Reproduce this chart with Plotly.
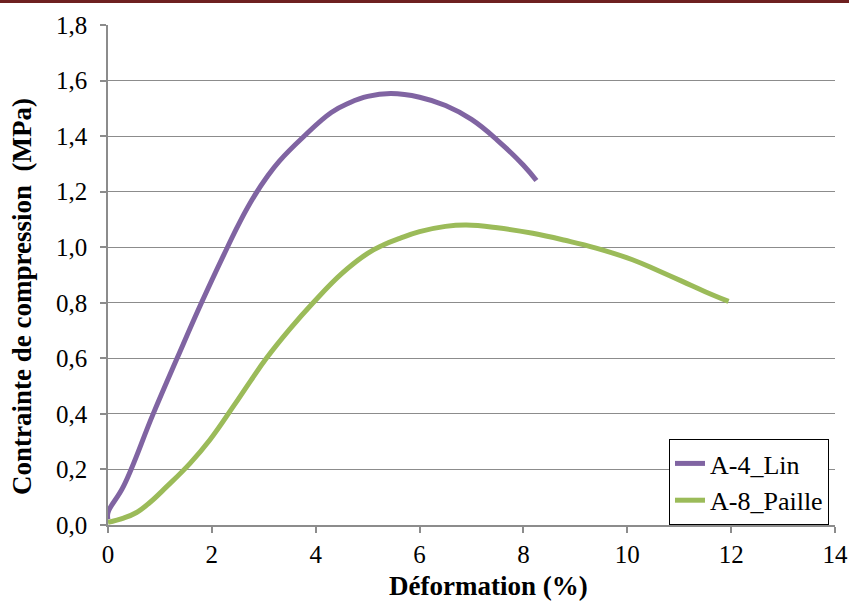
import plotly.graph_objects as go

# Data
lin_x = [0.0, 0.0, 0.3, 0.87, 1.33, 1.8, 2.3, 2.55, 2.82, 3.05, 3.3, 3.75, 4.3, 4.65, 5.0, 5.45,
         6.0, 6.5, 7.0, 7.5, 8.0, 8.25]
lin_y = [0.02, 0.045, 0.14, 0.40, 0.60, 0.80, 1.00, 1.095, 1.185, 1.25, 1.31, 1.395, 1.485, 1.52, 1.543, 1.553,
         1.54, 1.51, 1.46, 1.385, 1.295, 1.24]

paille_x = [0.0, 0.3, 0.55, 0.8, 1.13, 1.58, 1.96, 2.41, 2.75, 3.05, 3.5, 3.95, 4.5, 5.0, 5.3, 5.62,
            6.0, 6.5, 6.9, 7.5, 8.18, 8.8, 9.4, 10.1, 10.6, 11.06, 11.5, 11.95]
paille_y = [0.01, 0.025, 0.045, 0.08, 0.138, 0.222, 0.306, 0.426, 0.52, 0.60, 0.705, 0.80, 0.905, 0.978, 1.008, 1.032,
            1.056, 1.075, 1.08, 1.07, 1.05, 1.025, 0.997, 0.955, 0.915, 0.877, 0.84, 0.805]

x_ticks = [0, 2, 4, 6, 8, 10, 12, 14]
y_ticks = [0.0, 0.2, 0.4, 0.6, 0.8, 1.0, 1.2, 1.4, 1.6, 1.8]

W, H = 849, 601
ML, MR, MT, MB = 108, 14, 25, 76
FONT = "Liberation Serif"
GRID = "#8c8c8c"

pw = W - ML - MR
ph = H - MT - MB


def px_x(p):  # page pixel -> paper x
    return (p - ML) / pw


def px_y(p):  # page pixel -> paper y
    return (H - MB - p) / ph


fig = go.Figure()
fig.add_trace(go.Scatter(x=lin_x, y=lin_y, mode="lines", name="A-4_Lin",
                         line=dict(color="#8064A2", width=5, shape="spline", smoothing=1.2)))
fig.add_trace(go.Scatter(x=paille_x, y=paille_y, mode="lines", name="A-8_Paille",
                         line=dict(color="#9BBB59", width=5, shape="spline", smoothing=1.2)))

# dark red rule along the top edge of the picture
fig.add_shape(type="line", xref="paper", yref="paper",
              x0=px_x(0), x1=px_x(W), y0=px_y(1.5), y1=px_y(1.5),
              line=dict(color="#6e2020", width=3), layer="above")

fig.add_annotation(text="<b>Déformation (%)</b>", xref="paper", yref="paper",
                   x=px_x(488), y=px_y(586), xanchor="center", yanchor="middle",
                   showarrow=False, font=dict(family=FONT, size=27, color="black"))
fig.add_annotation(text="<b>Contrainte de compression  (MPa)</b>", xref="paper", yref="paper",
                   x=px_x(22), y=px_y(297), xanchor="center", yanchor="middle", textangle=-90,
                   showarrow=False, font=dict(family=FONT, size=27, color="black"))

fig.update_layout(
    width=W, height=H,
    margin=dict(l=ML, r=MR, t=MT, b=MB, autoexpand=False),
    paper_bgcolor="white", plot_bgcolor="white",
    separators=", ",
    font=dict(family=FONT, size=25, color="black"),
    showlegend=True,
    legend=dict(x=px_x(669), y=0, xanchor="left", yanchor="bottom",
                bordercolor="black", borderwidth=1, bgcolor="white",
                font=dict(family=FONT, size=26, color="black"),
                tracegroupgap=0, itemwidth=30),
    xaxis=dict(range=[0, 14], tickvals=x_ticks, showgrid=False, automargin=False,
               showline=True, linecolor=GRID, linewidth=1.5,
               ticks="outside", ticklen=6, tickcolor=GRID, tickwidth=1.5,
               zeroline=False, tickfont=dict(family=FONT, size=25)),
    yaxis=dict(range=[0, 1.8], tickvals=y_ticks, tickformat=".1f", automargin=False,
               showgrid=True, gridcolor=GRID, gridwidth=1.2,
               showline=True, linecolor=GRID, linewidth=1.5,
               ticks="outside", ticklen=6, tickcolor=GRID, tickwidth=1.5,
               ticklabelstandoff=8,
               zeroline=False, tickfont=dict(family=FONT, size=25)),
)

# remove the default page margin so the figure sits at the window's top-left corner
fig.write_html("out.html", config={"displayModeBar": False},
               post_script="document.body.style.margin='0';")
